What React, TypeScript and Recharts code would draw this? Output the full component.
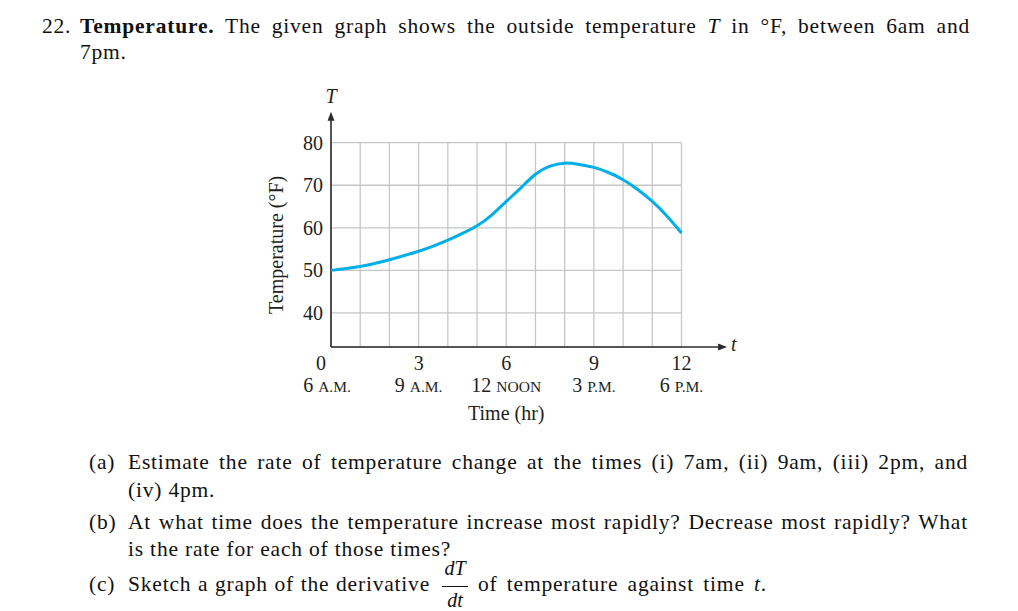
import React from 'react';
import { LineChart, Line, XAxis, YAxis, CartesianGrid, ReferenceLine } from 'recharts';

// hours after 6 A.M. and outside temperature (°F)
const hours = [0, 1, 2, 3, 3.5, 4, 4.5, 5, 5.5, 6, 6.5, 7, 7.5, 8, 8.5, 9, 9.5, 10, 10.5, 11, 11.5, 12];
const temps = [50, 50.9, 52.5, 54.5, 55.7, 57.1, 58.7, 60.5, 63.0, 66.2, 69.4, 72.6, 74.5, 75.2, 74.9, 74.2, 73.0, 71.3, 69.0, 66.2, 62.8, 58.8];
const gridHours = [0, 1, 2, 3, 4, 5, 6, 7, 8, 9, 10, 11, 12];
const yTicks = [40, 50, 60, 70, 80];
const labeledHours = [0, 3, 6, 9, 12];
const clockHours = ['6', '9', '12', '3', '6'];
const clockSuffix = ['A.M.', 'A.M.', 'NOON', 'P.M.', 'P.M.'];

const data = hours.map((t, i) => ({ t, temp: temps[i] }));

const ink = '#231f20';
const serif = '"Liberation Serif", "Times New Roman", serif';

const XTick = (props: any) => {
  const { x, y, payload } = props;
  const i = labeledHours.indexOf(payload.value);
  if (i < 0) return <g />;
  const first = payload.value === 0;
  return (
    <g fill={ink} fontFamily={serif} fontSize={20}>
      <text x={x + (first ? -10 : 0)} y={y + 23} textAnchor="middle">{payload.value}</text>
      <text x={x + (first ? -4 : 0)} y={y + 45} textAnchor="middle">
        {clockHours[i]} <tspan fontSize={15.5}>{clockSuffix[i]}</tspan>
      </text>
    </g>
  );
};

const YTick = (props: any) => {
  const { x, y, payload } = props;
  return (
    <text x={x} y={y} dy="0.35em" textAnchor="end" fill={ink} fontFamily={serif} fontSize={20}>
      {payload.value}
    </text>
  );
};

const Arrow = (props: any) => {
  const { x1, y1, x2, y2, name } = props;
  const vertical = Math.abs(x2 - x1) < 1;
  const head = vertical
    ? `${x2},${y2} ${x2 - 3.5},${y2 + 9} ${x2 + 3.5},${y2 + 9}`
    : `${x2},${y2} ${x2 - 9},${y2 - 3.5} ${x2 - 9},${y2 + 3.5}`;
  return (
    <g>
      <line x1={x1} y1={y1} x2={vertical ? x2 : x2 - 4} y2={vertical ? y2 + 4 : y2} stroke="#2b2b2b" strokeWidth={1.6} />
      <polygon points={head} fill="#2b2b2b" />
      <text
        x={vertical ? x2 : x2 + 4}
        y={vertical ? y2 - 9 : y2 + 4}
        textAnchor={vertical ? 'middle' : 'start'}
        fontFamily={serif}
        fontStyle="italic"
        fontSize={20}
        fill={ink}
      >
        {name}
      </text>
    </g>
  );
};

const YLabel = (props: any) => {
  const vb = props.viewBox || { x: 271, y: 143, width: 60, height: 204 };
  const cx = vb.x + 5;
  const cy = vb.y + vb.height / 2;
  return (
    <text x={cx} y={cy} transform={`rotate(-90 ${cx} ${cy})`} textAnchor="middle" dominantBaseline="central"
      fontFamily={serif} fontSize={20} fill={ink}>
      Temperature (°F)
    </text>
  );
};

const XLabel = (props: any) => {
  const vb = props.viewBox || { x: 331, y: 347, width: 350, height: 60 };
  return (
    <text x={vb.x + vb.width / 2} y={vb.y + 73} textAnchor="middle" fontFamily={serif} fontSize={20} fill={ink}>
      Time (hr)
    </text>
  );
};

const lineBox = (top: number, left: number, width?: number, justify = false): React.CSSProperties => ({
  position: 'absolute',
  top,
  left,
  width,
  lineHeight: '21px',
  whiteSpace: justify ? 'normal' : 'nowrap',
  textAlign: justify ? 'justify' : 'left',
  textAlignLast: justify ? 'justify' : 'auto',
  letterSpacing: '0.8px',
});

export default function App() {
  return (
    <div
      style={{
        position: 'absolute',
        left: 0,
        top: 0,
        width: 1018,
        height: 611,
        background: '#fff',
        overflow: 'hidden',
        fontFamily: serif,
        fontSize: 21.5,
        color: '#111',
      }}
    >
      <div style={lineBox(16, 42)}>22.</div>
      <div style={lineBox(16, 80, 890, true)}>
        <b>Temperature.</b> The given graph shows the outside temperature <i>T</i> in °F, between 6am and
      </div>
      <div style={lineBox(42, 80)}>7pm.</div>

      <div style={{ position: 'absolute', left: 0, top: 0 }}>
        <LineChart width={1018} height={611} data={data} margin={{ top: 142.7, right: 336.5, left: 271, bottom: 204 }}>
          <CartesianGrid stroke="#c6c6c6" strokeWidth={1.3} />
          <XAxis
            dataKey="t"
            type="number"
            domain={[0, 12]}
            ticks={gridHours}
            interval={0}
            height={60}
            axisLine={false}
            tickLine={false}
            tickSize={0}
            tickMargin={0}
            tick={<XTick />}
            label={<XLabel />}
          />
          <YAxis
            type="number"
            domain={[32, 80]}
            ticks={yTicks}
            width={60}
            axisLine={false}
            tickLine={false}
            tickSize={0}
            tickMargin={8}
            tick={<YTick />}
            label={<YLabel />}
          />
          <ReferenceLine
            segment={[{ x: 0, y: 32 }, { x: 13.56, y: 32 }]}
            ifOverflow="visible"
            shape={(p: any) => <Arrow {...p} name="t" />}
          />
          <ReferenceLine
            segment={[{ x: 0, y: 32 }, { x: 0, y: 87.3 }]}
            ifOverflow="visible"
            shape={(p: any) => <Arrow {...p} name="T" />}
          />
          <Line
            type="natural"
            dataKey="temp"
            stroke="#00aee8"
            strokeWidth={3}
            dot={false}
            isAnimationActive={false}
          />
        </LineChart>
      </div>

      <div style={lineBox(452.4, 89)}>(a)</div>
      <div style={lineBox(452.4, 128, 840, true)}>
        Estimate the rate of temperature change at the times (i) 7am, (ii) 9am, (iii) 2pm, and
      </div>
      <div style={lineBox(480.4, 128)}>(iv) 4pm.</div>

      <div style={lineBox(512.4, 89)}>(b)</div>
      <div style={lineBox(512.4, 128, 840, true)}>
        At what time does the temperature increase most rapidly? Decrease most rapidly? What
      </div>
      <div style={lineBox(539.4, 128)}>is the rate for each of those times?</div>

      <div style={lineBox(574.4, 89)}>(c)</div>
      <div style={lineBox(574.4, 128, 302, true)}>Sketch a graph of the derivative</div>
      <div style={{ position: 'absolute', left: 441, top: 558, width: 28, textAlign: 'center', fontStyle: 'italic', fontSize: 20, lineHeight: '20px' }}>
        dT
      </div>
      <div style={{ position: 'absolute', left: 442, top: 586, width: 26, height: 1.2, background: '#111' }} />
      <div style={{ position: 'absolute', left: 441, top: 590, width: 28, textAlign: 'center', fontStyle: 'italic', fontSize: 20, lineHeight: '20px' }}>
        dt
      </div>
      <div style={lineBox(574.4, 478, 289, true)}>
        of temperature against time <i>t</i>.
      </div>
    </div>
  );
}
